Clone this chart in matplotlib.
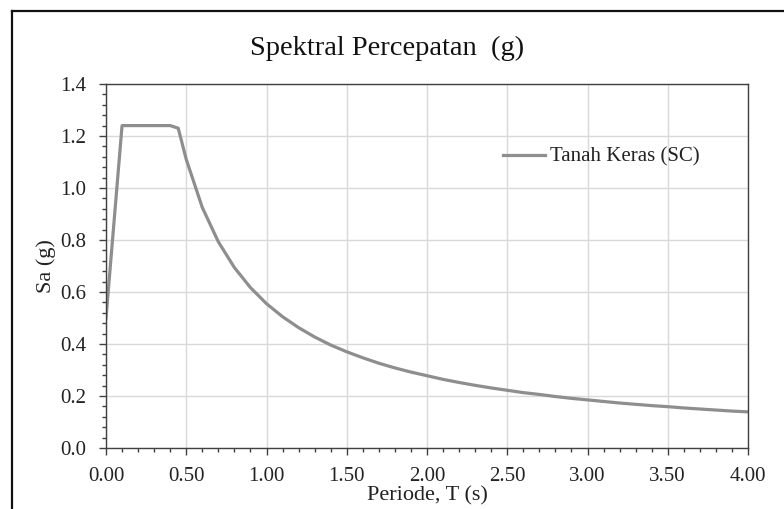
import matplotlib
matplotlib.use("Agg")
import matplotlib.pyplot as plt
from matplotlib.lines import Line2D
from matplotlib.ticker import MultipleLocator, FormatStrFormatter

# Data
period = [0.0, 0.10, 0.40, 0.45, 0.50, 0.60, 0.70, 0.80, 0.90, 1.00,
          1.10, 1.20, 1.30, 1.40, 1.50, 1.60, 1.70, 1.80, 1.90, 2.00,
          2.10, 2.20, 2.30, 2.40, 2.50, 2.60, 2.70, 2.80, 2.90, 3.00,
          3.10, 3.20, 3.30, 3.40, 3.50, 3.60, 3.70, 3.80, 3.90, 4.00]
sa = [0.50, 1.24, 1.24, 1.23, 1.11, 0.925, 0.793, 0.694, 0.617, 0.555,
      0.505, 0.463, 0.427, 0.396, 0.370, 0.347, 0.326, 0.308, 0.292, 0.278,
      0.264, 0.252, 0.241, 0.231, 0.222, 0.213, 0.206, 0.198, 0.191, 0.185,
      0.179, 0.173, 0.168, 0.163, 0.159, 0.154, 0.150, 0.146, 0.142, 0.139]
series_label = "Tanah Keras (SC)"
title = "Spektral Percepatan  (g)"
xlabel = "Periode, T (s)"
ylabel = "Sa (g)"

plt.rcParams['font.family'] = ['Liberation Serif', 'DejaVu Serif']

W, H = 784, 509
fig = plt.figure(figsize=(W / 100, H / 100), dpi=100)
ax = fig.add_axes([106 / W, 1 - 448 / H, (748 - 106) / W, (448 - 84) / H])

ax.plot(period, sa, color='#8e8e8e', lw=2.3, label=series_label, solid_joinstyle='round')

ax.set_xlim(0, 4)
ax.set_ylim(0, 1.4)
ax.xaxis.set_major_locator(MultipleLocator(0.5))
ax.xaxis.set_minor_locator(MultipleLocator(0.1))
ax.yaxis.set_major_locator(MultipleLocator(0.2))
ax.yaxis.set_minor_locator(MultipleLocator(0.04))
ax.xaxis.set_major_formatter(FormatStrFormatter('%.2f'))
ax.yaxis.set_major_formatter(FormatStrFormatter('%.1f'))
ax.grid(True, which='major', color='#d9d9d9', lw=1.0)
ax.set_axisbelow(True)
ax.tick_params(which='major', direction='out', length=5, width=1, color='#404040',
               labelsize=15, labelcolor='#222222')
ax.tick_params(axis='x', which='major', pad=9)
ax.tick_params(axis='y', which='major', pad=9)
ax.tick_params(which='minor', direction='out', length=3.2, width=1, color='#404040')
for s in ax.spines.values():
    s.set_color('#404040')
    s.set_linewidth(1.0)

ax.set_xlabel(xlabel, fontsize=16, color='#222222', labelpad=0)
ax.set_ylabel(ylabel, fontsize=16, color='#222222', labelpad=3)

leg = ax.legend(loc='center left', bbox_to_anchor=(397 / 642, 1 - (157 - 84) / 364), frameon=False,
                fontsize=15, handlelength=2.0, handletextpad=0.25, borderaxespad=0,
                borderpad=0)
for t in leg.get_texts():
    t.set_color('#222222')

fig.text(387 / W, 1 - 48 / H, title, ha='center', va='center', fontsize=20.5, color='#111111')

# outer chart frame (cropped at right and bottom)
fx = 11.5 / W
fy = 1 - 10.5 / H
fig.add_artist(Line2D([fx, fx], [0, fy], transform=fig.transFigure, color='#111111', lw=1.6))
fig.add_artist(Line2D([fx, 1], [fy, fy], transform=fig.transFigure, color='#111111', lw=1.6))

fig.savefig('out.png', dpi=100)
